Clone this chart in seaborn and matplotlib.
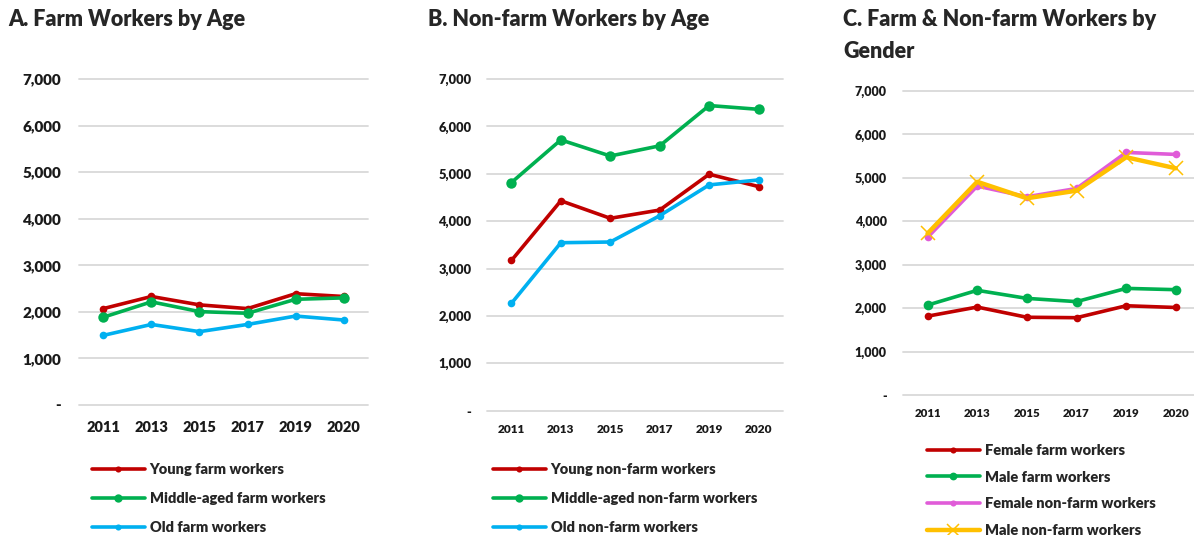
import matplotlib
matplotlib.use("Agg")
import matplotlib.pyplot as plt
import seaborn as sns
import pandas as pd
from matplotlib.ticker import FuncFormatter

# ---------------- data ----------------
years = ["2011", "2013", "2015", "2017", "2019", "2020"]

young_farm = [2070, 2330, 2150, 2070, 2390, 2330]
middle_farm = [1885, 2215, 2005, 1970, 2270, 2300]
old_farm = [1495, 1730, 1575, 1730, 1910, 1825]

young_nonfarm = [3170, 4430, 4060, 4235, 4990, 4730]
middle_nonfarm = [4815, 5715, 5375, 5590, 6440, 6360]
old_nonfarm = [2265, 3545, 3560, 4115, 4765, 4870]

female_farm = [1815, 2025, 1790, 1780, 2055, 2015]
male_farm = [2070, 2410, 2225, 2150, 2455, 2425]
female_nonfarm = [3630, 4810, 4565, 4755, 5585, 5540]
male_nonfarm = [3720, 4910, 4530, 4705, 5475, 5220]

titles = ["A. Farm Workers by Age", "B. Non-farm Workers by Age",
          "C. Farm & Non-farm Workers by\nGender"]

labels_a = ["Young farm workers", "Middle-aged farm workers", "Old farm workers"]
labels_b = ["Young non-farm workers", "Middle-aged non-farm workers", "Old non-farm workers"]
labels_c = ["Female farm workers", "Male farm workers",
            "Female non-farm workers", "Male non-farm workers"]

RED, GREEN, BLUE, PINK, GOLD = "#C00000", "#00B050", "#00B0F0", "#E05CD8", "#FFC000"

sns.set_theme(style="white")
plt.rcParams["font.family"] = ["Lato", "DejaVu Sans"]
plt.rcParams["font.weight"] = "bold"

W, H = 1194, 535
fig = plt.figure(figsize=(W / 100, H / 100), dpi=100)


def px_axes(x0, x1, ytop, ybot):
    return fig.add_axes([x0 / W, 1 - ybot / H, (x1 - x0) / W, (ybot - ytop) / H])


def fmt(v, pos):
    return "-" if abs(v) < 1 else f"{int(v):,}"


def style(ax, xfs, yfs, xpad, ypad):
    ax.set_xlim(-0.5, 5.5)
    ax.set_ylim(0, 7000)
    ax.set_yticks(range(0, 7001, 1000))
    ax.yaxis.set_major_formatter(FuncFormatter(fmt))
    ax.set_xticks(range(len(years)))
    ax.set_xticklabels(years)
    for s in ax.spines.values():
        s.set_visible(False)
    ax.grid(axis="y", color="#D9D9D9", linewidth=1.3)
    ax.grid(axis="x", visible=False)
    ax.set_axisbelow(True)
    ax.tick_params(axis="both", length=0, colors="#1a1a1a")
    ax.tick_params(axis="x", pad=xpad, labelsize=xfs)
    ax.tick_params(axis="y", pad=ypad, labelsize=yfs)
    for t in ax.get_xticklabels() + ax.get_yticklabels():
        t.set_fontweight("heavy")
    for gl in ax.get_ygridlines():
        gl.set_clip_on(False)
    ax.set_xlabel("")
    ax.set_ylabel("")


def draw(ax, series, labels, styles):
    x = list(range(len(years)))
    for vals, lab, st in zip(series, labels, styles):
        df = pd.DataFrame({"x": x, "y": vals})
        sns.lineplot(data=df, x="x", y="y", ax=ax, label=lab, color=st["c"],
                     linewidth=st.get("lw", 2.6), marker=st.get("m", "o"),
                     markersize=st.get("ms", 5.5), markeredgewidth=st.get("mew", 0),
                     markeredgecolor=st["c"], legend=False)


# Panel A
axA = px_axes(79.3, 367.7, 79, 405)
draw(axA, [young_farm, middle_farm, old_farm], labels_a,
     [dict(c=RED, ms=5.5), dict(c=GREEN, ms=7.5), dict(c=BLUE, ms=5.5)])
style(axA, 10.5, 11, 11.5, 13)

# Panel B
axB = px_axes(486.7, 783.3, 79, 410.7)
draw(axB, [young_nonfarm, middle_nonfarm, old_nonfarm], labels_b,
     [dict(c=RED, ms=5.5), dict(c=GREEN, ms=7.5), dict(c=BLUE, ms=5.5)])
style(axB, 8.6, 9.3, 9.5, 11)

# Panel C
axC = px_axes(902.7, 1200.7, 91, 395)
draw(axC, [female_farm, male_farm, female_nonfarm, male_nonfarm], labels_c,
     [dict(c=RED, ms=5.5), dict(c=GREEN, ms=7), dict(c=PINK, ms=5.5),
      dict(c=GOLD, m="x", ms=10, mew=1.1, lw=3.2)])
style(axC, 8.3, 9.0, 9.5, 11.5)

# Titles
tkw = dict(fontsize=15.5, fontweight="heavy", va="center", ha="left")
fig.text(8 / W, 1 - 20 / H, titles[0], **tkw)
fig.text(428 / W, 1 - 20 / H, titles[1], **tkw)
fig.text(843 / W, 1 - 35.5 / H, titles[2], linespacing=1.6, **tkw)

# Legends
def legend(ax, xpx, ypx, spacing):
    h, l = ax.get_legend_handles_labels()
    fig.legend(h, l, loc="center left", bbox_to_anchor=(xpx / W, 1 - ypx / H),
               frameon=False, handlelength=3.6, handletextpad=0.35,
               labelspacing=spacing, borderpad=0, borderaxespad=0, markerscale=0.8,
               prop={"weight": "heavy", "size": 10.5})

legend(axA, 92, 498.5, 1.1)
legend(axB, 493, 498.5, 1.1)
legend(axC, 927, 490.5, 0.95)

fig.savefig("out.png", dpi=100)
